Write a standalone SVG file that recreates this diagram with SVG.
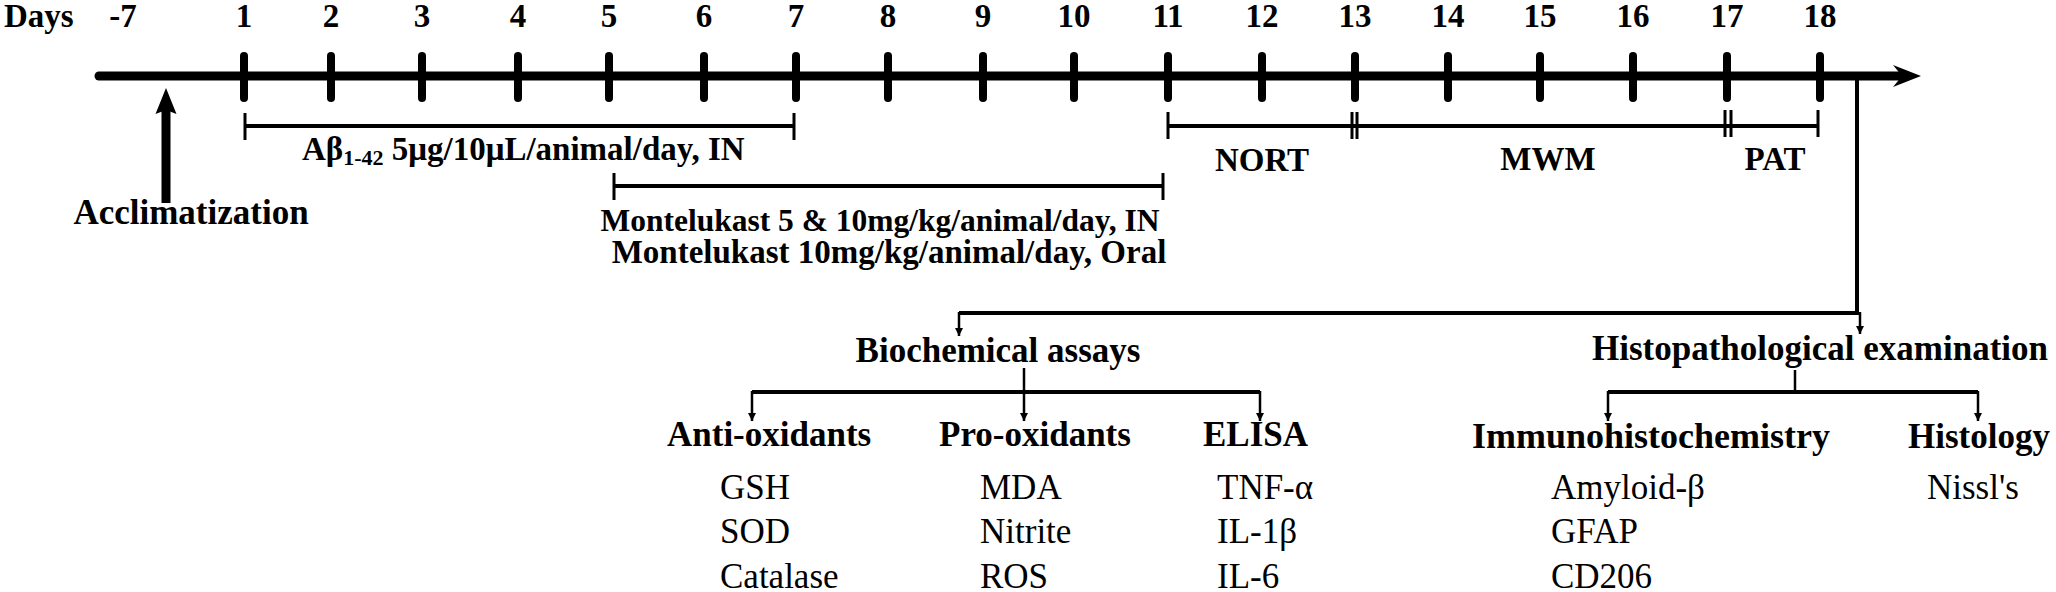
<svg xmlns="http://www.w3.org/2000/svg" width="2056" height="592" viewBox="0 0 2056 592" font-family="'Liberation Serif', 'Times New Roman', Times, serif">
<defs>
<style>
text{font-family:'Liberation Serif','Times New Roman',Times,serif;fill:#000}
.b{font-weight:bold;font-size:35px}
.d{font-weight:bold;font-size:33px;text-anchor:middle}
.r{font-size:35px}
.m{text-anchor:middle}
.tick{stroke:#000;stroke-width:8;stroke-linecap:round}
.bar{stroke:#000;stroke-width:4;fill:none}
.end{stroke:#000;stroke-width:3}
.ln{stroke:#000;stroke-width:4;fill:none}
.thin{stroke:#000;stroke-width:2.5;fill:none}
</style>
<marker id="ah" viewBox="0 0 10 10" refX="10" refY="5" markerWidth="3.2" markerHeight="4.5" orient="auto" markerUnits="strokeWidth">
<path d="M0,0 L10,5 L0,10 Z" fill="#000"/>
</marker>
</defs>
<g id="timeline">
<text class="b" x="4" y="27" style="font-size:33px">Days</text>
<text class="d" x="123" y="27">-7</text>
<text class="d" x="244" y="27">1</text>
<text class="d" x="331" y="27">2</text>
<text class="d" x="422" y="27">3</text>
<text class="d" x="518" y="27">4</text>
<text class="d" x="609" y="27">5</text>
<text class="d" x="704" y="27">6</text>
<text class="d" x="796" y="27">7</text>
<text class="d" x="888" y="27">8</text>
<text class="d" x="983" y="27">9</text>
<text class="d" x="1074" y="27">10</text>
<text class="d" x="1168" y="27">11</text>
<text class="d" x="1262" y="27">12</text>
<text class="d" x="1355" y="27">13</text>
<text class="d" x="1448" y="27">14</text>
<text class="d" x="1540" y="27">15</text>
<text class="d" x="1633" y="27">16</text>
<text class="d" x="1727" y="27">17</text>
<text class="d" x="1820" y="27">18</text>
<line x1="99" y1="76" x2="1900" y2="76" stroke="#000" stroke-width="9" stroke-linecap="round"/>
<path d="M1921,76 L1893,65 L1902,76 L1893,87 Z" fill="#000"/>
<g class="tick">
<line x1="244" y1="56" x2="244" y2="98"/>
<line x1="331" y1="56" x2="331" y2="98"/>
<line x1="422" y1="56" x2="422" y2="98"/>
<line x1="518" y1="56" x2="518" y2="98"/>
<line x1="609" y1="56" x2="609" y2="98"/>
<line x1="704" y1="56" x2="704" y2="98"/>
<line x1="796" y1="56" x2="796" y2="98"/>
<line x1="888" y1="56" x2="888" y2="98"/>
<line x1="983" y1="56" x2="983" y2="98"/>
<line x1="1074" y1="56" x2="1074" y2="98"/>
<line x1="1168" y1="56" x2="1168" y2="98"/>
<line x1="1262" y1="56" x2="1262" y2="98"/>
<line x1="1355" y1="56" x2="1355" y2="98"/>
<line x1="1448" y1="56" x2="1448" y2="98"/>
<line x1="1540" y1="56" x2="1540" y2="98"/>
<line x1="1633" y1="56" x2="1633" y2="98"/>
<line x1="1727" y1="56" x2="1727" y2="98"/>
<line x1="1820" y1="56" x2="1820" y2="98"/>
</g>
</g>
<g id="acclimatization">
<line x1="166" y1="203" x2="166" y2="108" stroke="#000" stroke-width="9"/>
<path d="M166,88 L176.5,114 L166,110 L155.5,114 Z" fill="#000"/>
<text class="b m" x="191" y="224">Acclimatization</text>
</g>
<g id="abeta">
<line class="bar" x1="245" y1="126" x2="794" y2="126"/>
<line class="end" x1="245" y1="113" x2="245" y2="140"/>
<line class="end" x1="794" y1="113" x2="794" y2="140"/>
<text class="b" x="302" y="160" style="font-size:33px">Aβ<tspan style="font-size:22px" dy="5">1-42</tspan><tspan dy="-5"> 5μg/10μL/animal/day, IN</tspan></text>
</g>
<g id="montelukast">
<line class="bar" x1="614" y1="186" x2="1163" y2="186"/>
<line class="end" x1="614" y1="173" x2="614" y2="200"/>
<line class="end" x1="1163" y1="173" x2="1163" y2="200"/>
<text class="b m" x="880" y="231" style="font-size:31.5px">Montelukast 5 &amp; 10mg/kg/animal/day, IN</text>
<text class="b m" x="889" y="263" style="font-size:33px">Montelukast 10mg/kg/animal/day, Oral</text>
</g>
<g id="behaviour">
<line class="bar" x1="1168" y1="126" x2="1818" y2="126"/>
<line class="end" x1="1168" y1="112" x2="1168" y2="139"/>
<line class="end" x1="1352" y1="112" x2="1352" y2="139"/>
<line class="end" x1="1357" y1="112" x2="1357" y2="139"/>
<line class="end" x1="1725" y1="110" x2="1725" y2="137"/>
<line class="end" x1="1731" y1="110" x2="1731" y2="137"/>
<line class="end" x1="1818" y1="110" x2="1818" y2="137"/>
<text class="b m" x="1262" y="171" style="font-size:33px">NORT</text>
<text class="b m" x="1548" y="170" style="font-size:33px">MWM</text>
<text class="b m" x="1775" y="170" style="font-size:33px">PAT</text>
</g>
<g id="connectors">
<path class="ln" d="M1857,76 L1857,313 L959,313"/>
<line class="thin" x1="959" y1="312" x2="959" y2="336" marker-end="url(#ah)"/>
<line class="thin" x1="1860" y1="312" x2="1860" y2="334" marker-end="url(#ah)"/>
<line class="ln" x1="752" y1="392" x2="1260" y2="392"/>
<line class="thin" x1="1024" y1="368" x2="1024" y2="421" marker-end="url(#ah)"/>
<line class="thin" x1="752" y1="391" x2="752" y2="421" marker-end="url(#ah)"/>
<line class="thin" x1="1260" y1="391" x2="1260" y2="421" marker-end="url(#ah)"/>
<line class="ln" x1="1608" y1="392" x2="1978" y2="392"/>
<line class="thin" x1="1795" y1="370" x2="1795" y2="392"/>
<line class="thin" x1="1608" y1="391" x2="1608" y2="421" marker-end="url(#ah)"/>
<line class="thin" x1="1978" y1="391" x2="1978" y2="421" marker-end="url(#ah)"/>
</g>
<g id="biochemical">
<text class="b m" x="998" y="362">Biochemical assays</text>
</g>
<g id="histopathological">
<text class="b m" x="1820" y="360">Histopathological examination</text>
</g>
<g id="antioxidants">
<text class="b" x="667" y="446">Anti-oxidants</text>
<text class="r" x="720" y="499">GSH</text>
<text class="r" x="720" y="543">SOD</text>
<text class="r" x="720" y="588">Catalase</text>
</g>
<g id="prooxidants">
<text class="b" x="939" y="446">Pro-oxidants</text>
<text class="r" x="980" y="499">MDA</text>
<text class="r" x="980" y="543">Nitrite</text>
<text class="r" x="980" y="588">ROS</text>
</g>
<g id="elisa">
<text class="b" x="1203" y="446">ELISA</text>
<text class="r" x="1217" y="499">TNF-α</text>
<text class="r" x="1217" y="543">IL-1β</text>
<text class="r" x="1217" y="588">IL-6</text>
</g>
<g id="immunohistochemistry">
<text class="b" x="1472" y="448" style="font-size:36px">Immunohistochemistry</text>
<text class="r" x="1551" y="499">Amyloid-β</text>
<text class="r" x="1551" y="543">GFAP</text>
<text class="r" x="1551" y="588">CD206</text>
</g>
<g id="histology">
<text class="b" x="1908" y="448">Histology</text>
<text class="r" x="1927" y="499">Nissl's</text>
</g>
</svg>
